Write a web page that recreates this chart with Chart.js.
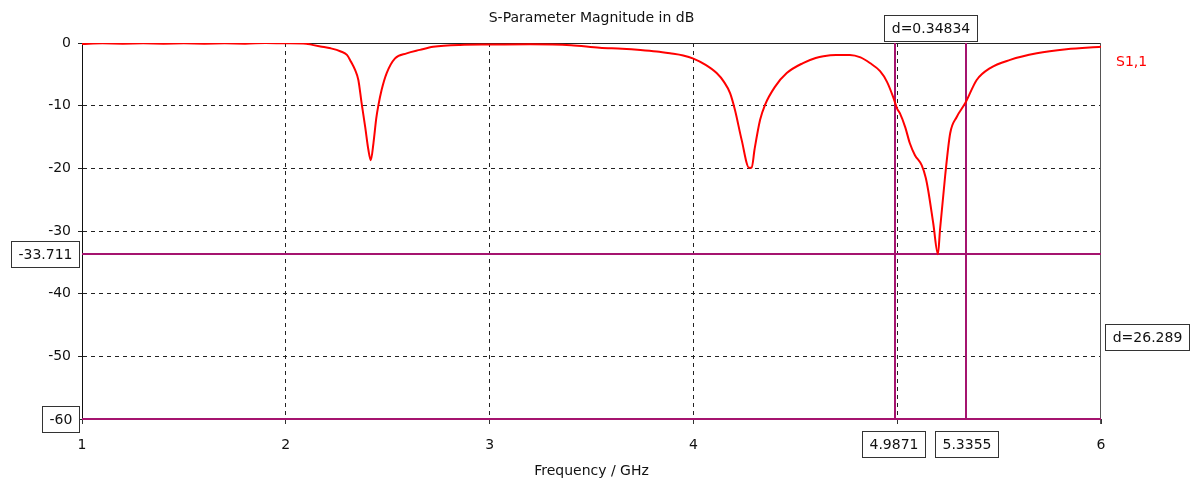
<!DOCTYPE html>
<html>
<head>
<meta charset="utf-8">
<script src="https://cdn.jsdelivr.net/npm/chart.js@4/dist/chart.umd.min.js"></script>
<style>
  html, body { margin: 0; padding: 0; background: #ffffff; }
  canvas { display: block; }
</style>
</head>
<body>
<canvas id="c" width="1192" height="489"></canvas>
<script>
// ---- data ----
const chartTitle = 'S-Parameter Magnitude in dB';
const xAxisTitle = 'Frequency / GHz';
const seriesName = 'S1,1';

const freqGHz = [
  1.00, 1.10, 1.20, 1.30, 1.40, 1.50, 1.60, 1.70, 1.80, 1.90, 2.00, 2.10,
  2.13, 2.17, 2.22, 2.27, 2.30, 2.32, 2.34, 2.356, 2.372, 2.39, 2.405, 2.417,
  2.43, 2.444, 2.454, 2.47, 2.495, 2.536, 2.593, 2.658, 2.723, 2.855,
  3.00, 3.20, 3.40, 3.54, 3.65, 3.74, 3.82, 3.885, 3.95, 4.00, 4.06, 4.114,
  4.15, 4.18, 4.204, 4.237, 4.273, 4.286, 4.30, 4.327, 4.351, 4.40, 4.458,
  4.538, 4.60, 4.638, 4.70, 4.768, 4.82, 4.866, 4.916, 4.95, 4.98, 5.00,
  5.013, 5.04, 5.062, 5.087, 5.12, 5.14, 5.152, 5.177, 5.20, 5.21, 5.235,
  5.26, 5.292, 5.3355, 5.39, 5.456, 5.554, 5.685, 5.83, 6.00
];
const s11dB = [
  -0.15, -0.05, -0.10, -0.05, -0.10, -0.05, -0.10, -0.05, -0.10, 0.00, -0.05, -0.10,
  -0.30, -0.55, -0.85, -1.35, -1.90, -3.00, -4.30, -5.90, -9.60, -13.5, -17.0, -18.7,
  -16.0, -12.0, -10.0, -7.5, -4.8, -2.45, -1.65, -1.10, -0.60, -0.30,
  -0.25, -0.20, -0.35, -0.75, -0.90, -1.10, -1.35, -1.65, -2.00, -2.50, -3.50, -4.80,
  -6.20, -8.00, -10.7, -15.5, -19.9, -19.9, -17.0, -12.3, -9.90, -7.00, -4.80,
  -3.20, -2.40, -2.10, -1.90, -1.90, -2.30, -3.20, -4.50, -6.20, -8.60, -10.5,
  -11.2, -13.5, -16.0, -17.9, -19.5, -21.5, -23.5, -28.8, -33.7, -29.8, -21.3,
  -14.4, -11.8, -9.50, -5.90, -4.00, -2.70, -1.65, -1.00, -0.60
];

// marker lines and their labels
const xMarkers = [4.9871, 5.3355];
const xMarkerLabels = ['4.9871', '5.3355'];
const yMarkers = [-33.711, -60];
const yMarkerLabels = ['-33.711', '-60'];
const xDeltaLabel = 'd=0.34834';
const yDeltaLabel = 'd=26.289';

const FONT = '14px "DejaVu Sans", Tahoma, Verdana, sans-serif';
const TEXT = '#111111';
const PURPLE = '#a5146f';
const RED = '#ff0000';

function drawBox(ctx, text, cx, cy) {
  ctx.font = FONT;
  const w = Math.round(ctx.measureText(text).width) + 14;
  const h = 26;
  const x0 = Math.round(cx - w / 2) + 0.5;
  const y0 = Math.round(cy - h / 2) + 0.5;
  ctx.fillStyle = '#ffffff';
  ctx.fillRect(x0, y0, w, h);
  ctx.strokeStyle = '#333333';
  ctx.lineWidth = 1;
  ctx.strokeRect(x0, y0, w, h);
  ctx.fillStyle = TEXT;
  ctx.textAlign = 'center';
  ctx.textBaseline = 'middle';
  ctx.fillText(text, x0 + w / 2, y0 + h / 2 + 1);
  return w;
}

const markerPlugin = {
  id: 'markers',
  beforeDatasetsDraw(chart) {
    const { ctx, chartArea: a, scales: { x, y } } = chart;
    ctx.save();
    ctx.strokeStyle = '#222222';
    ctx.lineWidth = 1;
    ctx.beginPath();
    ctx.moveTo(a.left, Math.round(a.top) + 0.5);
    ctx.lineTo(a.right, Math.round(a.top) + 0.5);
    ctx.stroke();
    ctx.strokeStyle = '#555555';
    ctx.beginPath();
    ctx.moveTo(Math.round(a.right) - 0.5, a.top);
    ctx.lineTo(Math.round(a.right) - 0.5, a.bottom + 5);
    ctx.stroke();
    ctx.strokeStyle = PURPLE;
    ctx.lineWidth = 2;
    xMarkers.forEach(v => {
      const px = Math.round(x.getPixelForValue(v));
      ctx.beginPath();
      ctx.moveTo(px, a.top);
      ctx.lineTo(px, a.bottom);
      ctx.stroke();
    });
    yMarkers.forEach(v => {
      const py = Math.round(y.getPixelForValue(v));
      ctx.beginPath();
      ctx.moveTo(a.left, py);
      ctx.lineTo(a.right, py);
      ctx.stroke();
    });
    ctx.restore();
  },
  afterDraw(chart) {
    const { ctx, chartArea: a, scales: { x, y } } = chart;
    ctx.save();
    ctx.font = FONT;
    ctx.fillStyle = TEXT;
    ctx.textAlign = 'center';
    ctx.textBaseline = 'middle';
    ctx.fillText(chartTitle, (a.left + a.right) / 2, 18);
    ctx.fillStyle = RED;
    ctx.textAlign = 'left';
    ctx.fillText(seriesName, a.right + 15, 62);
    xMarkers.forEach((v, i) => {
      const px = x.getPixelForValue(v);
      ctx.font = FONT;
      const w = ctx.measureText(xMarkerLabels[i]).width + 14;
      drawBox(ctx, xMarkerLabels[i], i === 0 ? px - 1 - w / 2 + 31 : px + w / 2 - 31, 444);
    });
    yMarkers.forEach((v, i) => {
      const py = y.getPixelForValue(v);
      ctx.font = FONT;
      const w = ctx.measureText(yMarkerLabels[i]).width + 14;
      drawBox(ctx, yMarkerLabels[i], a.left - 3 - w / 2, py);
    });
    const mx = (x.getPixelForValue(xMarkers[0]) + x.getPixelForValue(xMarkers[1])) / 2;
    drawBox(ctx, xDeltaLabel, mx, 28);
    const my = (y.getPixelForValue(yMarkers[0]) + y.getPixelForValue(yMarkers[1])) / 2;
    ctx.font = FONT;
    const wd = ctx.measureText(yDeltaLabel).width + 14;
    drawBox(ctx, yDeltaLabel, a.right + 4 + wd / 2, my);
    ctx.restore();
  }
};

new Chart(document.getElementById('c').getContext('2d'), {
  type: 'line',
  data: {
    datasets: [{
      label: seriesName,
      data: freqGHz.map((f, i) => ({ x: f, y: s11dB[i] })),
      borderColor: RED,
      borderWidth: 2,
      pointRadius: 0,
      cubicInterpolationMode: 'monotone',
      fill: false
    }]
  },
  options: {
    responsive: false,
    animation: false,
    devicePixelRatio: 1,
    layout: { padding: { left: 0, right: 91, top: 43, bottom: 0 } },
    plugins: { legend: { display: false }, tooltip: { enabled: false }, title: { display: false } },
    scales: {
      x: {
        type: 'linear',
        min: 1, max: 6,
        afterFit(s) { s.height = 70; },
        ticks: {
          stepSize: 1,
          autoSkip: false,
          maxRotation: 0,
          padding: 13,
          color: TEXT,
          font: { family: '"DejaVu Sans", Tahoma, sans-serif', size: 14 },
          callback: v => (v === 5 ? '' : String(v))
        },
        grid: {
          color: c => (c.tick && (c.tick.value === 1 || c.tick.value === 6) ? 'rgba(0,0,0,0)' : '#222222'),
          lineWidth: 1,
          tickLength: 5,
          tickColor: '#333333',
          drawTicks: true
        },
        border: { display: false, dash: [4, 4] },
        title: {
          display: true,
          text: xAxisTitle,
          color: TEXT,
          font: { family: '"DejaVu Sans", Tahoma, sans-serif', size: 14 },
          padding: { top: 0, bottom: 9 }
        }
      },
      y: {
        min: -60, max: 0,
        afterFit(s) { s.width = 82; },
        ticks: {
          stepSize: 10,
          padding: 7,
          color: TEXT,
          font: { family: '"DejaVu Sans", Tahoma, sans-serif', size: 14 },
          callback: v => (v === -60 ? '' : String(v))
        },
        grid: {
          color: c => (c.tick && (c.tick.value === 0 || c.tick.value === -60) ? 'rgba(0,0,0,0)' : '#222222'),
          lineWidth: 1,
          tickLength: 4,
          tickColor: '#222222',
          drawTicks: true
        },
        border: { display: true, color: '#111111', width: 1, dash: [4, 4] }
      }
    }
  },
  plugins: [markerPlugin]
});
</script>
</body>
</html>
